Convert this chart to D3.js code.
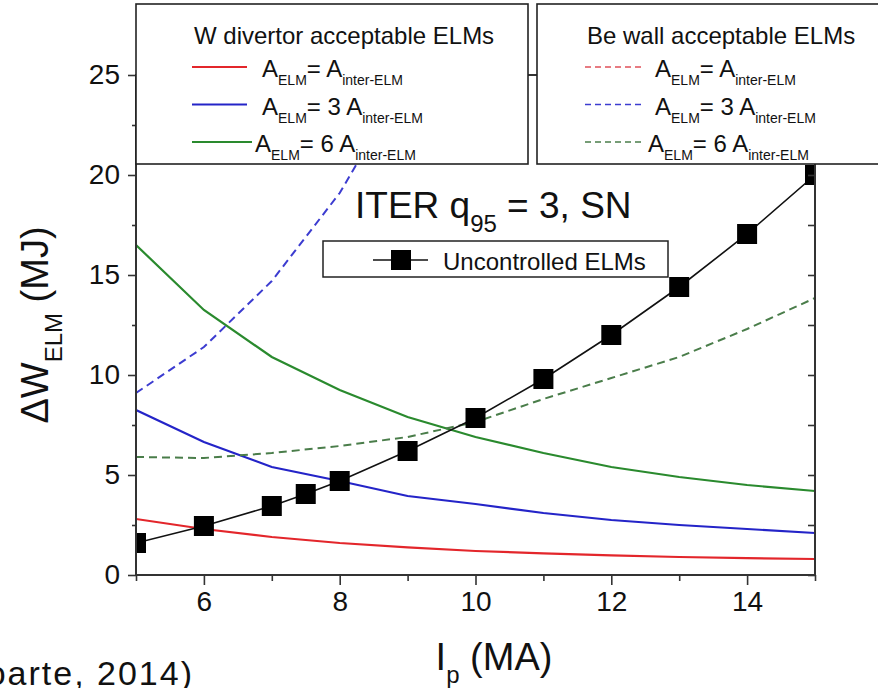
<!DOCTYPE html>
<html lang="en">
<head>
  <meta charset="UTF-8">
  <title>ITER ELM energy</title>
  <script src="https://d3js.org/d3.v7.min.js"></script>
  <style>
    body { margin: 0; background: #fff; }
    text { font-family: "Liberation Sans", Arial, sans-serif; fill: #111; }
  </style>
</head>
<body>
  <div id="my_dataviz"></div>
  <script>

    // data
    var ip = [5, 6, 7, 8, 9, 10, 11, 12, 13, 14, 15];
    var wRed = [2.8, 2.3, 1.9, 1.6, 1.38, 1.2, 1.08, 0.98, 0.9, 0.84, 0.8];
    var wBlue = [8.25, 6.65, 5.4, 4.7, 3.95, 3.55, 3.1, 2.75, 2.5, 2.3, 2.1];
    var wGreen = [16.5, 13.25, 10.9, 9.25, 7.9, 6.9, 6.1, 5.4, 4.9, 4.5, 4.2];
    var beGreen = [5.9, 5.85, 6.1, 6.45, 6.9, 7.65, 8.8, 9.85, 10.9, 12.3, 13.85];
    var beBlueIp = [5, 6, 7, 8, 8.5];
    var beBlue = [9.1, 11.4, 14.7, 19.1, 22];
    var uncIp = [5, 6, 7, 7.5, 8, 9, 10, 11, 12, 13, 14, 15];
    var uncW = [1.6, 2.45, 3.45, 4.05, 4.7, 6.2, 7.85, 9.8, 12.0, 14.4, 17.05, 20.0];
    var xTicks = [6, 8, 10, 12, 14];
    var yTicks = [0, 5, 10, 15, 20, 25];
    var legendRows = [["", "red"], ["3 ", "blue"], ["6 ", "green"]];

    var colors = { red: "#e3262b", blue: "#2424c8", green: "#2a8a2e" };
    var dashColors = { red: "#e0505a", blue: "#3c3cd0", green: "#4a7d4a" };

    var margin = { top: 75, right: 63, bottom: 113, left: 136 },
      W = 878, H = 688,
      width = W - margin.left - margin.right,
      height = H - margin.top - margin.bottom;

    var svg = d3.select("#my_dataviz")
      .append("svg")
      .attr("width", W)
      .attr("height", H);

    var g = svg.append("g")
      .attr("transform", "translate(" + margin.left + "," + margin.top + ")");

    var x = d3.scaleLinear().domain([5, 15]).range([0, width]);
    var y = d3.scaleLinear().domain([0, 25]).range([height, 0]);

    g.append("clipPath").attr("id", "clip")
      .append("rect").attr("width", width).attr("height", height);

    var plot = g.append("g").attr("clip-path", "url(#clip)");

    var line = d3.line()
      .x(function (d) { return x(d[0]); })
      .y(function (d) { return y(d[1]); });

    function pairs(xs, ys) { return xs.map(function (v, i) { return [v, ys[i]]; }); }

    // W divertor curves (solid)
    [[wRed, "red"], [wBlue, "blue"], [wGreen, "green"]].forEach(function (s) {
      plot.append("path")
        .datum(pairs(ip, s[0]))
        .attr("d", line)
        .attr("fill", "none")
        .attr("stroke", colors[s[1]])
        .attr("stroke-width", 2.2);
    });

    // Be wall curves (dashed)
    [[beBlueIp, beBlue, "blue"], [ip, beGreen, "green"]].forEach(function (s) {
      plot.append("path")
        .datum(pairs(s[0], s[1]))
        .attr("d", line)
        .attr("fill", "none")
        .attr("stroke", dashColors[s[2]])
        .attr("stroke-width", 2)
        .attr("stroke-dasharray", "8,5");
    });

    // uncontrolled ELMs
    var unc = pairs(uncIp, uncW);
    plot.append("path")
      .datum(unc)
      .attr("d", line)
      .attr("fill", "none")
      .attr("stroke", "#111")
      .attr("stroke-width", 1.6);
    plot.selectAll("rect.sq")
      .data(unc)
      .enter()
      .append("rect")
      .attr("class", "sq")
      .attr("x", function (d) { return x(d[0]) - 10; })
      .attr("y", function (d) { return y(d[1]) - 10; })
      .attr("width", 20)
      .attr("height", 20)
      .attr("fill", "#000");

    // axes
    var axisColor = "#333";
    function styleAxis(sel) {
      sel.select(".domain").remove();
      sel.selectAll("line").attr("stroke", axisColor).attr("stroke-width", 1.6);
      sel.selectAll("text")
        .style("font-size", "28px")
        .style("font-family", "'Liberation Sans', Arial, sans-serif")
        .attr("fill", "#222");
    }

    var xMinor = d3.range(5, 15.01, 1).filter(function (v) { return xTicks.indexOf(v) < 0; });
    var yMinor = d3.range(0, 25.01, 2.5).filter(function (v) { return yTicks.indexOf(v) < 0; });

    g.append("g")
      .attr("transform", "translate(0," + height + ")")
      .call(d3.axisBottom(x).tickValues(xMinor).tickSize(6).tickFormat(""))
      .call(styleAxis);
    g.append("g")
      .attr("transform", "translate(0," + height + ")")
      .call(d3.axisBottom(x).tickValues(xTicks).tickSize(10).tickPadding(6).tickFormat(d3.format("d")))
      .call(styleAxis);

    g.append("g")
      .call(d3.axisLeft(y).tickValues(yMinor).tickSize(4).tickFormat(""))
      .call(styleAxis);
    g.append("g")
      .call(d3.axisLeft(y).tickValues(yTicks).tickSize(8).tickPadding(8).tickFormat(d3.format("d")))
      .call(styleAxis);

    g.append("g")
      .attr("transform", "translate(" + width + ",0)")
      .call(d3.axisLeft(y).tickValues(d3.range(0, 25.01, 2.5)).tickSize(7).tickFormat(""))
      .call(styleAxis);

    // frame
    g.append("rect")
      .attr("width", width)
      .attr("height", height)
      .attr("fill", "none")
      .attr("stroke", axisColor)
      .attr("stroke-width", 2);

    // annotations
    var iter = svg.append("text")
      .attr("x", 355).attr("y", 218)
      .style("font-size", "37px");
    iter.append("tspan").text("ITER q");
    iter.append("tspan").attr("dy", 14).style("font-size", "24px").text("95");
    iter.append("tspan").attr("dy", -14).text(" = 3, SN");

    // uncontrolled legend
    svg.append("rect")
      .attr("x", 323).attr("y", 241).attr("width", 345).attr("height", 36)
      .attr("fill", "#fff").attr("stroke", "#222").attr("stroke-width", 1.5);
    svg.append("line")
      .attr("x1", 373).attr("x2", 428).attr("y1", 260).attr("y2", 260)
      .attr("stroke", "#111").attr("stroke-width", 1.6);
    svg.append("rect")
      .attr("x", 391).attr("y", 250).attr("width", 20).attr("height", 20).attr("fill", "#000");
    svg.append("text")
      .attr("x", 443).attr("y", 270)
      .style("font-size", "24px")
      .text("Uncontrolled ELMs");

    // big legend boxes
    function legendBox(x0, x1, title, dashed, lineX, textX) {
      var lg = svg.append("g");
      lg.append("rect")
        .attr("x", x0).attr("y", 4).attr("width", x1 - x0).attr("height", 160)
        .attr("fill", "#fff").attr("stroke", "#222").attr("stroke-width", 1.6);
      lg.append("text")
        .attr("x", lineX[0] + 2).attr("y", 44)
        .style("font-size", "24px")
        .text(title);
      legendRows.forEach(function (r, i) {
        var base = 77 + i * 37.5;
        lg.append("line")
          .attr("x1", lineX[0]).attr("x2", lineX[1] + (i === 2 && !dashed ? 5 : 0))
          .attr("y1", base - 10).attr("y2", base - 10)
          .attr("stroke", dashed ? dashColors[r[1]] : colors[r[1]])
          .attr("stroke-width", dashed ? 1.6 : 2)
          .attr("stroke-dasharray", dashed ? "6,4" : null);
        var t = lg.append("text")
          .attr("x", textX - (i === 2 ? 7 : 0)).attr("y", base)
          .style("font-size", "24px");
        t.append("tspan").text("A");
        t.append("tspan").attr("dy", 8).style("font-size", "14px").text("ELM");
        t.append("tspan").attr("dy", -8).text("= " + r[0] + "A");
        t.append("tspan").attr("dy", 8).style("font-size", "14px").text("inter-ELM");
      });
    }
    legendBox(136, 528, "W divertor acceptable ELMs", false, [192, 247], 262);
    legendBox(537, 882, "Be wall acceptable ELMs", true, [585, 642], 655);

    // axis titles
    var yl = svg.append("text")
      .attr("transform", "translate(48,325) rotate(-90)")
      .attr("text-anchor", "middle")
      .style("font-size", "38px");
    yl.append("tspan").text("\u0394W");
    yl.append("tspan").attr("dy", 14).style("font-size", "24px").text("ELM");
    yl.append("tspan").attr("dy", -14).text(" (MJ)");

    var xl = svg.append("text")
      .attr("x", 494).attr("y", 670)
      .attr("text-anchor", "middle")
      .style("font-size", "38px");
    xl.append("tspan").text("I");
    xl.append("tspan").attr("dy", 13).style("font-size", "24px").text("p");
    xl.append("tspan").attr("dy", -13).text(" (MA)");

    // citation, cut at the left edge as in the source slide
    svg.append("text")
      .attr("x", 194).attr("y", 685)
      .attr("text-anchor", "end")
      .style("font-size", "34px")
      .style("letter-spacing", "2px")
      .text("(Loarte, 2014)");

  </script>
</body>
</html>
